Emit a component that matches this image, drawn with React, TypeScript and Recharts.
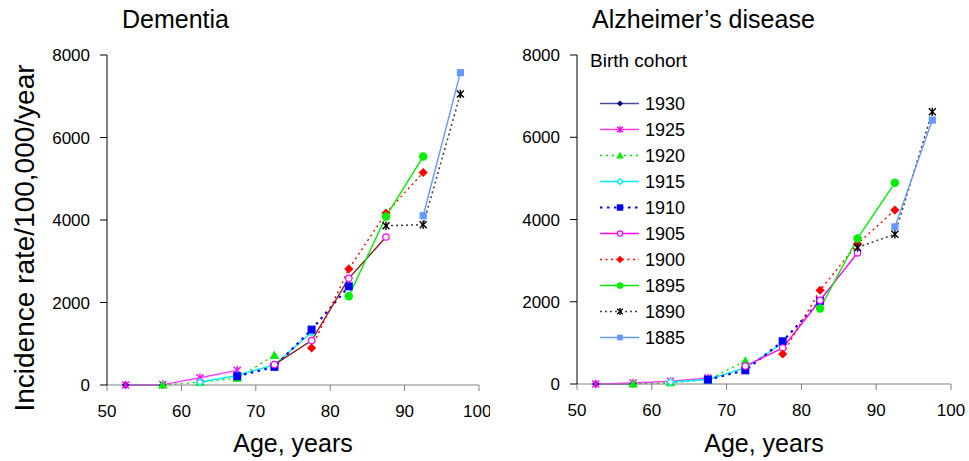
import React from "react";
import { LineChart, Line, XAxis, YAxis, Legend } from "recharts";

const ages = [52.5, 57.5, 62.5, 67.5, 72.5, 77.5, 82.5, 87.5, 92.5, 97.5];
const ageTicks = [50, 60, 70, 80, 90, 100];
const rateTicks = [0, 2000, 4000, 6000, 8000];
const cohorts = ["1930", "1925", "1920", "1915", "1910", "1905", "1900", "1895", "1890", "1885"];

// Dementia incidence, one value per age group (null = cohort not observed at that age)
const dem1930 = [0, 0, null, null, null, null, null, null, null, null];
const dem1925 = [0, 10, 175, 355, null, null, null, null, null, null];
const dem1920 = [null, 0, 70, 165, 720, null, null, null, null, null];
const dem1915 = [null, null, 68, 230, 490, 1280, null, null, null, null];
const dem1910 = [null, null, null, 213, 440, 1343, 2392, null, null, null];
const dem1905 = [null, null, null, null, 496, 1077, 2585, 3587, null, null];
const dem1900 = [null, null, null, null, null, 900, 2813, 4168, 5151, null];
const dem1895 = [null, null, null, null, null, null, 2150, 4086, 5538, null];
const dem1890 = [null, null, null, null, null, null, null, 3861, 3885, 7055];
const dem1885 = [null, null, null, null, null, null, null, null, 4103, 7572];

// Alzheimer's disease incidence
const ad1930 = [0, 0, null, null, null, null, null, null, null, null];
const ad1925 = [0, 24, 66, 146, null, null, null, null, null, null];
const ad1920 = [null, 0, 30, 100, 560, null, null, null, null, null];
const ad1915 = [null, null, 49, 110, 390, 990, null, null, null, null];
const ad1910 = [null, null, null, 107, 333, 1039, 2020, null, null, null];
const ad1905 = [null, null, null, null, 435, 876, 2037, 3188, null, null];
const ad1900 = [null, null, null, null, null, 730, 2280, 3407, 4228, null];
const ad1895 = [null, null, null, null, null, null, 1835, 3539, 4892, null];
const ad1890 = [null, null, null, null, null, null, null, 3320, 3643, 6620];
const ad1885 = [null, null, null, null, null, null, null, null, 3821, 6418];

const dementiaSeries = [dem1930, dem1925, dem1920, dem1915, dem1910, dem1905, dem1900, dem1895, dem1890, dem1885];
const adSeries = [ad1930, ad1925, ad1920, ad1915, ad1910, ad1905, ad1900, ad1895, ad1890, ad1885];

const buildRows = (series: (number | null)[][]) =>
  ages.map((age, i) => {
    const row: Record<string, number | null> = { age };
    cohorts.forEach((c, k) => {
      row["c" + c] = series[k][i];
    });
    return row;
  });

type Style = { stroke: string; width: number; dash?: string; marker: string; markerColor: string };

const styles: Record<string, Style> = {
  "1930": { stroke: "#4a4a9c", width: 1.4, marker: "diamond", markerColor: "#000080" },
  "1925": { stroke: "#ff3cff", width: 1.4, marker: "star", markerColor: "#ff00ff" },
  "1920": { stroke: "#00e000", width: 1.4, dash: "2 4", marker: "triangle", markerColor: "#00ee00" },
  "1915": { stroke: "#00f0f0", width: 1.4, marker: "openDiamond", markerColor: "#00e8f0" },
  "1910": { stroke: "#0000ff", width: 2.2, dash: "2.5 4.5", marker: "square", markerColor: "#0000ff" },
  "1905": { stroke: "#ff00ff", width: 1.4, marker: "openCircle", markerColor: "#ff00ff" },
  "1900": { stroke: "#ff0000", width: 1.4, dash: "2 3.5", marker: "redDiamond", markerColor: "#ff0000" },
  "1895": { stroke: "#00ee00", width: 1.4, marker: "circle", markerColor: "#00ee00" },
  "1890": { stroke: "#444444", width: 1.6, dash: "2 3", marker: "asterisk", markerColor: "#000000" },
  "1885": { stroke: "#6699ff", width: 1.4, marker: "ltSquare", markerColor: "#6699ff" },
};

const drawMarker = (kind: string, x: number, y: number, color: string, s = 1) => {
  switch (kind) {
    case "diamond": {
      const r = 3.8 * s;
      return <polygon points={`${x},${y - r} ${x + r},${y} ${x},${y + r} ${x - r},${y}`} fill={color} />;
    }
    case "redDiamond": {
      const r = 4.6 * s;
      return <polygon points={`${x},${y - r} ${x + r},${y} ${x},${y + r} ${x - r},${y}`} fill={color} />;
    }
    case "openDiamond": {
      const r = 3.6 * s;
      return (
        <polygon points={`${x},${y - r} ${x + r},${y} ${x},${y + r} ${x - r},${y}`} fill="#fff" stroke={color} strokeWidth={1.3} />
      );
    }
    case "star":
    case "asterisk": {
      const r = 3.5 * s;
      return (
        <g stroke={color} strokeWidth={1.4}>
          <line x1={x - r} y1={y - r} x2={x + r} y2={y + r} />
          <line x1={x - r} y1={y + r} x2={x + r} y2={y - r} />
          <line x1={x} y1={y - r - 0.8} x2={x} y2={y + r + 0.8} />
        </g>
      );
    }
    case "triangle": {
      const r = 4.8 * s;
      return <polygon points={`${x},${y - r} ${x + r},${y + r * 0.75} ${x - r},${y + r * 0.75}`} fill={color} />;
    }
    case "square": {
      const h = 4 * s;
      return <rect x={x - h} y={y - h} width={2 * h} height={2 * h} fill={color} />;
    }
    case "ltSquare": {
      const h = 3.6 * s;
      return <rect x={x - h} y={y - h} width={2 * h} height={2 * h} fill={color} />;
    }
    case "openCircle":
      return <circle cx={x} cy={y} r={3.2 * s} fill="#fff" stroke={color} strokeWidth={1.2} />;
    case "circle":
      return <circle cx={x} cy={y} r={4.2 * s} fill={color} />;
    default:
      return null;
  }
};

const makeDot = (st: Style) => (props: any) => {
  const { cx, cy, index } = props;
  if (cx == null || cy == null) return <g key={index} />;
  return <g key={index}>{drawMarker(st.marker, cx, cy, st.markerColor)}</g>;
};

const LegendBox = () => (
  <svg width={150} height={315} style={{ fontFamily: '"Liberation Sans", Arial, sans-serif' }}>
    <text x={10} y={27} fontSize={19} fill="#000">
      Birth cohort
    </text>
    {cohorts.map((c, i) => {
      const s = styles[c];
      const ly = 63.5 + i * 26;
      return (
        <g key={c}>
          <line x1={20} x2={59} y1={ly} y2={ly} stroke={s.stroke} strokeWidth={s.width} strokeDasharray={s.dash} />
          {drawMarker(s.marker, 40, ly, s.markerColor, 0.8)}
          <text x={65} y={70 + i * 26} fontSize={18} fill="#000">
            {c}
          </text>
        </g>
      );
    })}
  </svg>
);

type ChartProps = {
  title: string;
  series: (number | null)[][];
  left: number;
  width: number;
  margin: { top: number; right: number; left: number; bottom: number };
  yLabel?: boolean;
  legend?: boolean;
  overrides?: Record<string, string>;
};

const CohortChart = ({ title, series, left, width, margin, yLabel, legend, overrides = {} }: ChartProps) => {
  const rows = buildRows(series);
  const plotCenter = margin.left + 60 + (width - margin.left - 60 - margin.right) / 2;
  return (
    <div style={{ position: "absolute", left, top: 0, width, height: 461 }}>
      <div style={{ position: "absolute", left: margin.left + 75, top: 7, fontSize: 25, lineHeight: "25px", whiteSpace: "nowrap" }}>
        {title}
      </div>
      <LineChart width={width} height={461} data={rows} margin={margin}>
        <XAxis
          dataKey="age"
          type="number"
          domain={[50, 100]}
          ticks={ageTicks}
          stroke="#808080"
          tick={{ fill: "#000", fontSize: 17 }}
          tickSize={6}
          tickMargin={14}
          height={30}
          label={{
            content: () => (
              <text x={plotCenter} y={452} textAnchor="middle" fontSize={25} fill="#000">
                Age, years
              </text>
            ),
          }}
        />
        <YAxis
          type="number"
          domain={[0, 8000]}
          ticks={rateTicks}
          stroke="#000"
          tick={{ fill: "#000", fontSize: 17 }}
          tickSize={7}
          tickMargin={10}
          width={60}
          label={
            yLabel
              ? {
                  content: () => (
                    <text x={34} y={238} transform="rotate(-90 34 238)" textAnchor="middle" fontSize={28} fill="#000">
                      Incidence rate/100,000/year
                    </text>
                  ),
                }
              : undefined
          }
        />
        {cohorts.map((c) => {
          const st = styles[c];
          return (
            <Line
              key={c}
              dataKey={"c" + c}
              name={c}
              stroke={overrides[c] || st.stroke}
              strokeWidth={st.width}
              strokeDasharray={st.dash}
              dot={makeDot(st)}
              activeDot={false}
              isAnimationActive={false}
            />
          );
        })}
        {legend && (
          <Legend
            layout="vertical"
            align="center"
            verticalAlign="middle"
            wrapperStyle={{ left: 90, top: 40, width: 150, height: 315 }}
            content={() => <LegendBox />}
          />
        )}
      </LineChart>
    </div>
  );
};

export default function App() {
  return (
    <div
      style={{
        position: "absolute",
        left: 0,
        top: 0,
        width: 969,
        height: 461,
        background: "#fff",
        color: "#000",
        fontFamily: '"Liberation Sans", Arial, sans-serif',
      }}
    >
      <CohortChart
        title="Dementia"
        series={dementiaSeries}
        left={0}
        width={490}
        margin={{ top: 55, right: 11, left: 47, bottom: 46 }}
        yLabel
        overrides={{ "1905": "#8b1c1c" }}
      />
      <CohortChart
        title="Alzheimer’s disease"
        series={adSeries}
        left={490}
        width={479}
        margin={{ top: 55, right: 18, left: 27, bottom: 47 }}
        legend
      />
    </div>
  );
}
